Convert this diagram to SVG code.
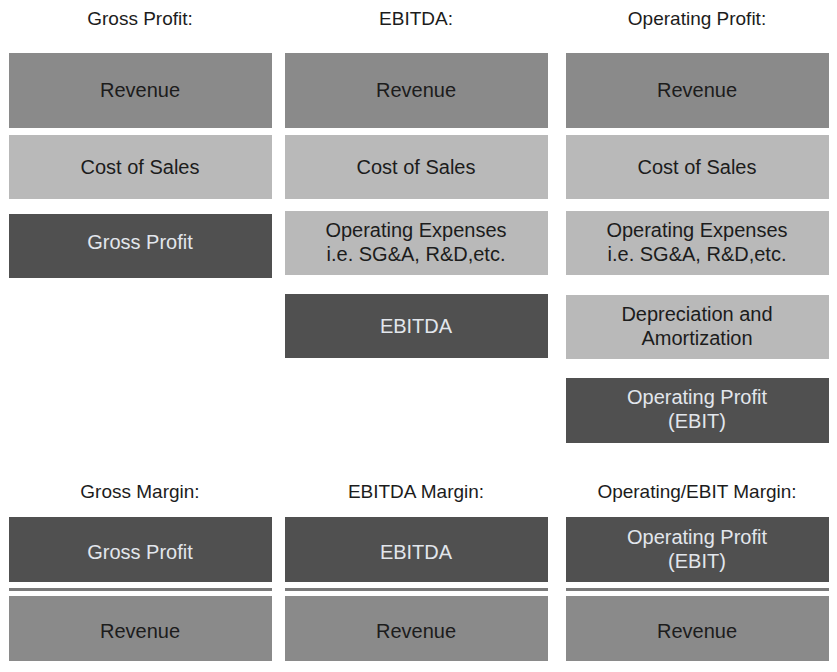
<svg xmlns="http://www.w3.org/2000/svg" width="837" height="672" viewBox="0 0 837 672">
<style>
text{font-family:"Liberation Sans",Arial,sans-serif;font-size:20px;text-anchor:middle;fill:#1c1c1c}
.ttl{font-size:19px}
.rev{fill:#8a8a8a}
.cost{fill:#b9b9b9}
.dark{fill:#505050}
.lt{fill:#e2e6ec}
.sep{stroke:#7a7a7a;stroke-width:3}
</style>
<rect width="837" height="672" fill="#ffffff"/>
<g id="titles">
<text class="ttl" x="140" y="25">Gross Profit:</text>
<text class="ttl" x="416" y="25">EBITDA:</text>
<text class="ttl" x="697" y="25">Operating Profit:</text>
<text class="ttl" x="140" y="498">Gross Margin:</text>
<text class="ttl" x="416" y="498">EBITDA Margin:</text>
<text class="ttl" x="697" y="498">Operating/EBIT Margin:</text>
</g>
<g id="gp-revenue"><rect class="rev" x="9" y="53" width="263" height="75"/><text x="140" y="97">Revenue</text></g>
<g id="gp-cost"><rect class="cost" x="9" y="135" width="263" height="64"/><text x="140" y="174">Cost of Sales</text></g>
<g id="gp-gross"><rect class="dark" x="9" y="214" width="263" height="64"/><text class="lt" x="140" y="249">Gross Profit</text></g>

<g id="eb-revenue"><rect class="rev" x="285" y="53" width="263" height="75"/><text x="416" y="97">Revenue</text></g>
<g id="eb-cost"><rect class="cost" x="285" y="135" width="263" height="64"/><text x="416" y="174">Cost of Sales</text></g>
<g id="eb-opex"><rect class="cost" x="285" y="211" width="263" height="64"/><text x="416" y="237">Operating Expenses</text><text x="416" y="261">i.e. SG&amp;A, R&amp;D,etc.</text></g>
<g id="eb-ebitda"><rect class="dark" x="285" y="294" width="263" height="64"/><text class="lt" x="416" y="333">EBITDA</text></g>

<g id="op-revenue"><rect class="rev" x="566" y="53" width="263" height="75"/><text x="697" y="97">Revenue</text></g>
<g id="op-cost"><rect class="cost" x="566" y="135" width="263" height="64"/><text x="697" y="174">Cost of Sales</text></g>
<g id="op-opex"><rect class="cost" x="566" y="211" width="263" height="64"/><text x="697" y="237">Operating Expenses</text><text x="697" y="261">i.e. SG&amp;A, R&amp;D,etc.</text></g>
<g id="op-da"><rect class="cost" x="566" y="295" width="263" height="64"/><text x="697" y="321">Depreciation and</text><text x="697" y="345">Amortization</text></g>
<g id="op-ebit"><rect class="dark" x="566" y="378" width="263" height="65"/><text class="lt" x="697" y="404">Operating Profit</text><text class="lt" x="697" y="428">(EBIT)</text></g>

<g id="gm-gross"><rect class="dark" x="9" y="517" width="263" height="65"/><text class="lt" x="140" y="559">Gross Profit</text></g>
<g id="gm-revenue"><rect class="rev" x="9" y="596" width="263" height="65"/><text x="140" y="638">Revenue</text></g>
<g id="em-ebitda"><rect class="dark" x="285" y="517" width="263" height="65"/><text class="lt" x="416" y="559">EBITDA</text></g>
<g id="em-revenue"><rect class="rev" x="285" y="596" width="263" height="65"/><text x="416" y="638">Revenue</text></g>
<g id="om-ebit"><rect class="dark" x="566" y="517" width="263" height="65"/><text class="lt" x="697" y="544">Operating Profit</text><text class="lt" x="697" y="568">(EBIT)</text></g>
<g id="om-revenue"><rect class="rev" x="566" y="596" width="263" height="65"/><text x="697" y="638">Revenue</text></g>

<g id="connectors">
<line class="sep" x1="9" y1="589.5" x2="272" y2="589.5"/>
<line class="sep" x1="285" y1="589.5" x2="548" y2="589.5"/>
<line class="sep" x1="566" y1="589.5" x2="829" y2="589.5"/>
</g>
</svg>
